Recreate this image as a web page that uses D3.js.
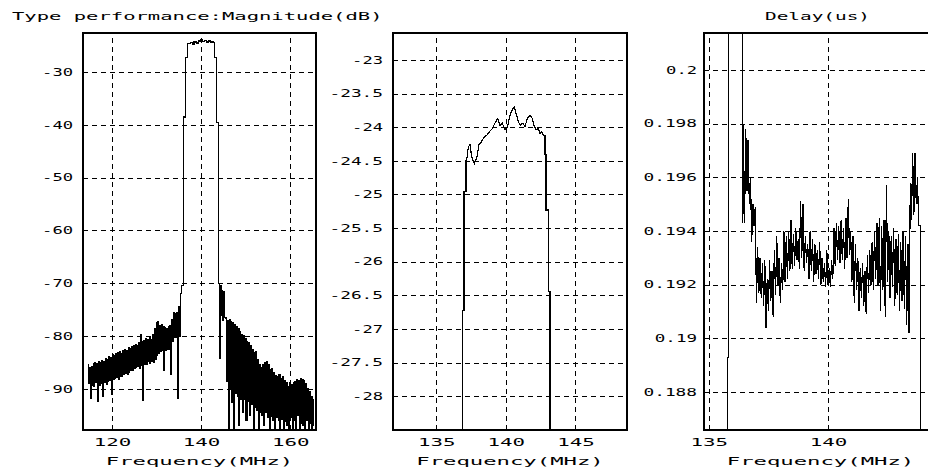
<!DOCTYPE html>
<html>
<head>
<meta charset="utf-8">
<script src="https://cdn.jsdelivr.net/npm/d3@7"></script>
<style>
body{margin:0;background:#fff}
svg{display:block}
</style>
</head>
<body>
<svg id="chart" width="928" height="470"></svg>
<script>
//DATA

//wide magnitude plot, lower stopband sampled evenly from 114.6 to 135.6 MHz
const wideLowStart = 114.6, wideLowEnd = 135.6;
const wideLowBand = [
  -85.5,-89.0,-86.0,-91.8,-85.8,-89.3,
  -85.2,-89.5,-85.0,-88.8,-85.3,-92.3,
  -84.9,-89.4,-85.1,-89.0,-84.6,-91.5,
  -84.8,-88.8,-84.2,-89.2,-84.5,-88.6,
  -83.9,-88.4,-84.0,-91.0,-83.5,-88.3,
  -83.8,-88.0,-83.4,-87.9,-83.2,-88.2,
  -83.0,-87.6,-83.4,-87.7,-82.8,-87.3,
  -82.5,-87.0,-82.7,-87.2,-82.2,-86.8,
  -82.4,-86.6,-82.0,-86.5,-81.8,-86.2,
  -81.6,-86.0,-81.9,-85.8,-81.2,-86.1,
  -79.8,-85.6,-81.0,-92.1,-80.8,-85.4,
  -80.5,-85.3,-80.6,-84.9,-80.3,-85.2,
  -80.6,-84.8,-79.8,-85.0,-78.5,-84.5,
  -77.5,-83.6,-77.3,-83.2,-78.0,-83.0,
  -77.8,-82.8,-78.2,-86.5,-78.4,-82.7,
  -78.6,-82.5,-78.3,-82.5,-78.0,-87.2,
  -76.8,-81.0,-75.6,-80.3,-75.8,-80.2,
  -75.5,-91.9,-74.5,-80.0,-72.0,-70.5
];
//passband of the wide plot, [MHz, dB]
const widePass = [
  [135.75,-70.5],[136.0,-70.0],[136.0,-38.5],[136.5,-38.5],[136.5,-27.3],[137.0,-27.3],
  [137.0,-24.6],[137.6,-24.4],[138.0,-24.7],[138.4,-24.3],[138.9,-24.5],[139.4,-24.1],
  [139.8,-23.8],[140.2,-24.2],[140.7,-24.0],[141.2,-24.3],[141.7,-24.1],[142.2,-24.3],
  [142.7,-24.4],[143.0,-24.4],[143.0,-27.3],[143.5,-27.3],[143.5,-39.6],[143.85,-39.6],
  [143.85,-70.0]
];
//upper stopband sampled evenly from 143.9 to 165.3 MHz
const wideHighStart = 143.9, wideHighEnd = 165.3;
const wideHighBand = [
  -70.0,-84.2,-70.5,-76.0, -71.3,-77.0,-71.5,-76.5, -76.6,-88.5,-77.0,-99,
  -76.8,-90.0,-77.2,-92.5, -77.5,-99,-77.9,-90.8, -78.2,-91.5,-78.6,-97.0,
  -79.2,-92.0,-79.8,-94.5, -80.0,-92.0,-80.5,-96.0, -81.0,-92.3,-81.3,-95.0,
  -81.8,-93.0,-82.5,-99, -83.2,-93.5,-83.0,-94.0, -84.5,-99,-85.5,-94.5,
  -85.9,-95.0,-85.5,-97.0, -85.0,-94.5,-84.9,-95.5, -85.5,-99,-86.4,-95.3,
  -86.2,-96.0,-87.0,-99, -87.5,-95.5,-87.7,-96.0, -87.3,-97.5,-88.0,-95.8,
  -87.7,-99,-88.5,-96.2, -88.9,-97.0,-89.5,-99, -88.9,-95.5,-89.2,-99,
  -88.8,-96.0,-88.6,-99, -88.3,-95.0,-88.5,-99, -88.0,-96.5,-88.3,-97.0,
  -88.4,-99,-89.0,-96.0, -90.0,-99,-90.5,-96.5, -91.5,-99,-92.0,-97.0
];

//zoomed passband, [MHz, dB]
const zoomPass = [
  [136.91,-29],[136.91,-26.72],[137.0,-26.72],[137.0,-24.96],[137.14,-24.96],[137.14,-24.5],
  [137.19,-24.49],[137.31,-24.29],[137.43,-24.26],[137.55,-24.44],[137.74,-24.54],[137.91,-24.46],
  [138.07,-24.26],[138.27,-24.21],[138.46,-24.14],[138.63,-24.12],[138.81,-24.07],[139.03,-24.02],
  [139.22,-23.94],[139.42,-23.87],[139.58,-23.97],[139.75,-23.94],[139.94,-24.04],[140.13,-23.99],
  [140.30,-23.82],[140.46,-23.74],[140.61,-23.70],[140.73,-23.79],[140.90,-23.92],[141.04,-23.97],
  [141.21,-23.94],[141.38,-23.99],[141.54,-23.87],[141.73,-23.82],[141.90,-23.87],[142.04,-23.99],
  [142.19,-24.04],[142.33,-24.02],[142.45,-24.09],[142.57,-24.07],[142.69,-24.12],[142.81,-24.12],
  [142.81,-24.41],[142.88,-24.41],[142.88,-25.23],[143.05,-25.23],[143.05,-26.44],[143.17,-26.44],
  [143.17,-29]
];

//group delay, edges as [MHz, us], body sampled every 0.05 MHz from 136.45
const delayLeftEdge = [[135.78,0.18],[135.78,0.18928],[135.82,0.18928],[135.82,0.21],[136.43,0.21],[136.43,0.1943]];
const delayStart = 136.45, delayStep = 0.05;
const delayValues = [
  0.1980,0.1943,0.1978,0.1955,0.1974,0.1950,0.1960,0.1936,0.1950,0.1942,
  0.1949,0.1913,0.1934,0.1917,0.1930,0.1915,0.1928,0.1912,0.1929,0.1904,
  0.1922,0.1910,0.1929,0.1914,0.1925,0.1908,0.1933,0.1916,0.1938,0.1920,
  0.1930,0.1913,0.1928,0.1918,0.1940,0.1921,0.1938,0.1922,0.1940,0.1925,
  0.1944,0.1926,0.1939,0.1927,0.1941,0.1929,0.1937,0.1926,0.1951,0.1930,
  0.1950,0.1925,0.1938,0.1928,0.1935,0.1922,0.1940,0.1925,0.1937,0.1921,
  0.1935,0.1924,0.1933,0.1922,0.1936,0.1920,0.1930,0.1921,0.1928,0.1919,
  0.1933,0.1920,0.1926,0.1919,0.1929,0.1922,0.1941,0.1927,0.1943,0.1929,
  0.1942,0.1928,0.1944,0.1929,0.1941,0.1926,0.1945,0.1930,0.1952,0.1931,
  0.1940,0.1921,0.1938,0.1913,0.1935,0.1918,0.1930,0.1910,0.1926,0.1915,
  0.1928,0.1912,0.1925,0.1909,0.1931,0.1917,0.1933,0.1920,0.1936,0.1918,
  0.1940,0.1922,0.1943,0.1920,0.1945,0.1910,0.1942,0.1918,0.1944,0.1908,
  0.1957,0.1921,0.1940,0.1915,0.1938,0.1919,0.1941,0.1912,0.1937,0.1916,
  0.1939,0.1910,0.1936,0.1914,0.1940,0.1911,0.1938,0.1905,0.1935,0.1902,
  0.1958,0.1944,0.1969,0.1946,0.1969,0.1950,0.1960,0.1942,0.1942
];
const delayRightEdge = [[143.87,0.1942],[143.87,0.18]];

//ticks (the 145 MHz delay tick falls past the window edge)
const wideXTicks = [120,140,160];
const wideYTicks = [-30,-40,-50,-60,-70,-80,-90];
const zoomXTicks = [135,140,145];
const zoomYTicks = [-23,-23.5,-24,-24.5,-25,-25.5,-26,-26.5,-27,-27.5,-28];
const delayXTicks = [135,140];
const delayYTicks = [0.2,0.198,0.196,0.194,0.192,0.19,0.188];

const mainTitle = "Type performance:Magnitude(dB)";
const delayTitle = "Delay(us)";
const xTitle = "Frequency(MHz)";

//BUILD SERIES
function evenly(values,start,end){
  let step = (end-start)/(values.length-1);
  return values.map((v,i) => [start+i*step, v]);
}
const wideSeries = evenly(wideLowBand,wideLowStart,wideLowEnd)
  .concat(widePass)
  .concat(evenly(wideHighBand,wideHighStart,wideHighEnd));
const delaySeries = delayLeftEdge
  .concat(delayValues.map((v,i) => [delayStart+i*delayStep, v]))
  .concat(delayRightEdge);

//DRAW
const svg = d3.select("#chart");
const top0 = 33, bottom0 = 430;
const font = "'DejaVu Sans Mono', monospace";
const fontSize = "10px";

//stretch glyphs over a fixed per-character pitch, like the wide bitmap font of the original
function styleText(sel, pitch){
  sel.attr("font-family",font)
    .attr("font-size",fontSize)
    .attr("fill","#000")
    .attr("lengthAdjust","spacingAndGlyphs")
    .attr("textLength", function(){ return this.textContent.length*pitch-3; });
}

const panels = [
  {id:"wide", left:83, right:316, xDom:[113.5,165.8], yDom:[-97.8,-22.6],
   xTicks:wideXTicks, yTicks:wideYTicks, series:wideSeries, pad:10, curve:d3.curveStepAfter},
  {id:"zoom", left:393, right:627, xDom:[131.9,148.7], yDom:[-28.5,-22.6],
   xTicks:zoomXTicks, yTicks:zoomYTicks, series:zoomPass, pad:10, curve:d3.curveLinear},
  {id:"delay", left:704, right:937, xDom:[134.8,144.57], yDom:[0.18658,0.20138],
   xTicks:delayXTicks, yTicks:delayYTicks, series:delaySeries, pad:7, curve:d3.curveLinear}
];

panels.forEach(function(p){
  let w = p.right-p.left, h = bottom0-top0;
  let x = d3.scaleLinear().domain(p.xDom).range([p.left,p.right]);
  let y = d3.scaleLinear().domain(p.yDom).range([bottom0,top0]);

  svg.append("clipPath").attr("id","clip-"+p.id)
    .append("rect").attr("x",p.left).attr("y",top0).attr("width",w).attr("height",h);

  //grid + y labels
  let yAxis = svg.append("g")
    .attr("transform","translate("+p.left+",0)")
    .call(d3.axisLeft(y).tickValues(p.yTicks).tickSize(-w).tickPadding(p.pad).tickFormat(d => String(d)));
  //grid + x labels
  let xAxis = svg.append("g")
    .attr("transform","translate(0,"+bottom0+")")
    .call(d3.axisBottom(x).tickValues(p.xTicks).tickSize(-h).tickPadding(9).tickFormat(d => String(d)));

  [yAxis,xAxis].forEach(function(ax){
    ax.select(".domain").remove();
    ax.selectAll(".tick line")
      .attr("stroke","#000")
      .attr("stroke-dasharray","5,4")
      .attr("shape-rendering","crispEdges");
  });
  styleText(yAxis.selectAll(".tick text"), 11.3);
  styleText(xAxis.selectAll(".tick text"), 13.5);

  //data
  let line = d3.line().curve(p.curve).x(d => x(d[0])).y(d => y(d[1]));
  svg.append("path")
    .datum(p.series)
    .attr("clip-path","url(#clip-"+p.id+")")
    .attr("d",line)
    .attr("fill","none")
    .attr("stroke","#000")
    .attr("stroke-width",1.2)
    .attr("shape-rendering","crispEdges");

  //frame
  svg.append("rect")
    .attr("x",p.left).attr("y",top0).attr("width",w).attr("height",h)
    .attr("fill","none").attr("stroke","#000").attr("stroke-width",1.3)
    .attr("shape-rendering","crispEdges");

  //x title
  svg.append("text")
    .attr("x",(p.left+p.right)/2).attr("y",464.5)
    .attr("text-anchor","middle")
    .text(xTitle)
    .call(styleText, 13.6);
});

svg.append("text")
  .attr("x",12).attr("y",20)
  .text(mainTitle)
  .call(styleText, 12.45);

svg.append("text")
  .attr("x",765).attr("y",20)
  .text(delayTitle)
  .call(styleText, 12);
</script>
</body>
</html>
